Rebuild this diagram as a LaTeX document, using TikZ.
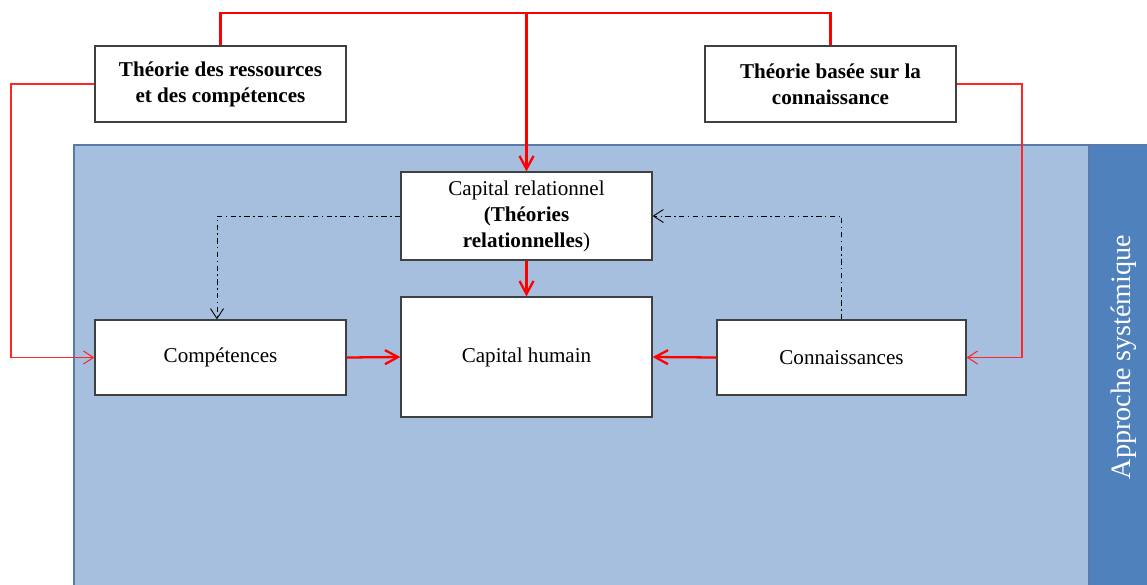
\documentclass[tikz,border=0pt]{standalone}
\usepackage{fontspec}
\setmainfont{Liberation Serif}
\usepackage{tikz}
\usetikzlibrary{arrows.meta}
\definecolor{fond_bleu}{RGB}{167, 191, 222}
\definecolor{bord_bleu}{RGB}{90, 123, 170}
\definecolor{bande_bleu}{RGB}{79, 129, 189}
\definecolor{gris_bord}{RGB}{64, 64, 64}
\tikzstyle{boite}=[rectangle,fill=white,draw=gris_bord,line width=0.7pt,
  align=center,font=\fontsize{12}{14.8}\selectfont,
  minimum width=5.02cm,inner sep=2pt]
\tikzstyle{fleche}=[draw=red,line width=1.3pt,
  -{Straight Barb[length=2.6mm,width=2.8mm]}]
\tikzstyle{lien}=[draw=red!85,line width=0.6pt]
\tikzstyle{pointille}=[draw=black,line width=0.5pt,
  dash pattern=on 3pt off 2pt on 0.8pt off 2pt,
  -{Straight Barb[length=2mm,width=2.6mm]}]

\begin{document}
\begin{tikzpicture}
    \useasboundingbox (0,0) rectangle (22.94,-11.68);
    \filldraw [fill=fond_bleu,draw=bord_bleu,line width=0.6pt] (1.48,-2.9) rectangle (21.78,-11.8);
    \filldraw [fill=bande_bleu,draw=bord_bleu,line width=0.6pt] (21.78,-2.9) rectangle (23.1,-11.8);
    \node [rotate=90,text=white,font=\fontsize{16}{19}\selectfont] (approche) at (22.48,-7.14) {Approche systémique};
    \node [style=boite,minimum height=1.52cm,font=\fontsize{12}{14.8}\selectfont\bfseries] (ressources) at (4.41,-1.68) {Théorie des ressources\\et des compétences};
    \node [style=boite,minimum height=1.52cm,font=\fontsize{12}{14.8}\selectfont\bfseries] (savoir) at (16.61,-1.68) {Théorie basée sur la\\connaissance};
    \node [style=boite,minimum height=1.76cm] (relationnel) at (10.53,-4.32) {Capital relationnel\\\textbf{(Théories}\\\textbf{relationnelles})};
    \node [style=boite,minimum height=2.4cm] (humain) at (10.53,-7.14) {Capital humain};
    \node [style=boite,minimum height=1.5cm] (competences) at (4.41,-7.15) {Compétences};
    \node [style=boite,minimum height=1.5cm,minimum width=4.98cm] (connaissances) at (16.83,-7.15) {Connaissances};
    \coordinate (haut) at (10.53,-0.26);
    \coordinate (gauche) at (0.22,-4);
    \coordinate (droite) at (20.44,-4);
    \coordinate (coude) at (4.34,-4.32);
    \draw [draw=red,line width=1.3pt] (ressources.north) |- (haut) -| (savoir.north);
    \draw [style=fleche] (haut) to (relationnel.north);
    \draw [style=fleche] (relationnel.south) to (humain.north);
    \draw [style=fleche] (competences.east) to (humain.west);
    \draw [style=fleche] (connaissances.west) to (humain.east);
    \draw [style=lien,-{Straight Barb[length=2mm,width=2.6mm]}] (ressources.west) -| (gauche) |- (competences.west);
    \draw [style=lien,-{Straight Barb[length=2mm,width=2.6mm]}] (savoir.east) -| (droite) |- (connaissances.east);
    \draw [style=pointille] (relationnel.west) -- (coude) -- (coude |- competences.north);
    \draw [style=pointille] (connaissances.north) |- (relationnel.east);
  \end{tikzpicture}
\end{document}
